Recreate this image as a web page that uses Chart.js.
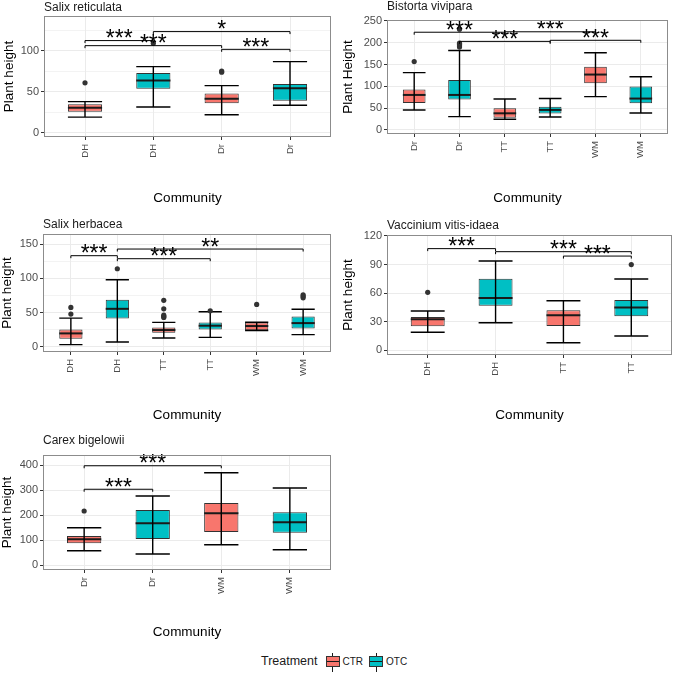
<!DOCTYPE html>
<html lang="en">
  <head>
    <meta charset="UTF-8" />
    <title>Plant height by community and treatment</title>
    <script src="https://cdn.jsdelivr.net/npm/chart.js"></script>
    <style>
      body {
        margin: 0;
        background: #ffffff;
        font-family: "Liberation Sans", Arial, sans-serif;
      }
      #page {
        position: relative;
        width: 675px;
        height: 673px;
        overflow: hidden;
      }
      canvas {
        position: absolute;
      }
      /* Legend */
      #legend {
        position: absolute;
        left: 261px;
        top: 654px;
        display: flex;
        align-items: center;
        font-size: 10px;
        color: #1a1a1a;
      }
      #legend .lab {
        font-size: 12.5px;
        margin-right: 6px;
      }
      #legend .key {
        position: relative;
        width: 12px;
        height: 9px;
        border: 1px solid #333;
        margin: 0 3px 0 2px;
      }
      #legend .key::before {
        content: "";
        position: absolute;
        left: 0;
        right: 0;
        top: 4px;
        height: 1.5px;
        background: #1a1a1a;
      }
      #legend .key::after {
        content: "";
        position: absolute;
        left: 5.5px;
        top: -4px;
        width: 1px;
        height: 19px;
        background: #1a1a1a;
        z-index: -1;
      }
      #legend .txt {
        margin-right: 4px;
      }
    </style>
  </head>
  <body>
    <div id="page">
      <div id="legend">
        <span class="lab">Treatment</span>
        <span class="key" style="background: #f8766d"></span><span class="txt">CTR</span>
        <span class="key" style="background: #00bfc4"></span><span class="txt">OTC</span>
      </div>
    </div>

    <script>
      // ---- data: [lower whisker, Q1, median, Q3, upper whisker] ----
      const reticulataCats = ["DH", "DH", "Dr", "Dr"];
      const reticulataTreat = ["CTR", "OTC", "CTR", "OTC"];
      const reticulataStats = [
        [19, 25.7, 30.6, 34.7, 38],
        [31.4, 53.9, 64, 73, 80.8],
        [22, 36, 41.6, 48, 57.6],
        [33.5, 39, 54.3, 59.6, 87],
      ];
      const reticulataOut = [[61], [109.5], [75.5, 74], []];
      const reticulataSig = [
        [0, 1, 112.7, "***"],
        [0, 2, 106.5, "***"],
        [1, 3, 123.7, "*"],
        [2, 3, 102, "***"],
      ];

      const viviparaCats = ["Dr", "Dr", "TT", "TT", "WM", "WM"];
      const viviparaTreat = ["CTR", "OTC", "CTR", "OTC", "CTR", "OTC"];
      const viviparaStats = [
        [45.9, 62, 80.3, 92.5, 131.5],
        [30.6, 69.6, 80.3, 114.7, 182],
        [24.5, 28, 38.2, 49.7, 71],
        [29.8, 37.5, 46, 53.5, 72],
        [76.5, 107, 127, 145, 177],
        [39, 61, 72, 99.4, 122],
      ];
      const viviparaOut = [[156.7], [190, 193, 196, 199, 231], [], [], [], []];
      const viviparaSig = [
        [0, 2, 224, "***"],
        [1, 3, 203, "***"],
        [2, 4, 225, "***"],
        [3, 5, 205.5, "***"],
      ];

      const herbaceaCats = ["DH", "DH", "TT", "TT", "WM", "WM"];
      const herbaceaTreat = ["CTR", "OTC", "CTR", "OTC", "CTR", "OTC"];
      const herbaceaStats = [
        [3.4, 12, 19.8, 25.6, 42],
        [7.3, 41.6, 55.6, 68.7, 98],
        [13, 20.8, 24.7, 28.5, 35.8],
        [14, 25.6, 31, 35.8, 51.3],
        [24, 24.5, 30.5, 35.5, 36],
        [18, 27, 34.8, 44.5, 55],
      ];
      const herbaceaOut = [[48, 57.6], [114], [43, 44.5, 46.4, 55.6, 68], [52.7], [62], [71.6, 74, 76]];
      const herbaceaSig = [
        [0, 1, 133, "***"],
        [1, 3, 128.6, "***"],
        [1, 5, 142.7, "**"],
      ];

      const vitisCats = ["DH", "DH", "TT", "TT"];
      const vitisTreat = ["CTR", "OTC", "CTR", "OTC"];
      const vitisStats = [
        [18.9, 25.2, 32.5, 35, 41.3],
        [29, 46.9, 54.9, 75.2, 93.8],
        [8, 25.5, 36.7, 42, 52],
        [15, 35.7, 45, 52.8, 74.9],
      ];
      const vitisOut = [[60.9], [], [], [90]];
      const vitisSig = [
        [0, 1, 106.7, "***"],
        [1, 3, 103.5, "***"],
        [2, 3, 98.9, "***"],
      ];

      const carexCats = ["Dr", "Dr", "WM", "WM"];
      const carexTreat = ["CTR", "OTC", "CTR", "OTC"];
      const carexStats = [
        [57, 87, 103, 116, 149],
        [44, 104, 167, 220, 276],
        [81, 132, 207, 248, 369],
        [61, 129, 171, 211, 308],
      ];
      const carexOut = [[216], [], [], []];
      const carexSig = [
        [0, 1, 303, "***"],
        [0, 2, 397, "***"],
      ];

      const COLORS = { CTR: "#F8766D", OTC: "#00BFC4" };
      const FONT = '"Liberation Sans", Arial, sans-serif';

      // ---- layout of the five panels (page coordinates) ----
      const panels = [
        {
          title: "Salix reticulata", yTitle: "Plant height",
          cats: reticulataCats, treat: reticulataTreat, stats: reticulataStats, out: reticulataOut, sig: reticulataSig,
          yMin: -5.3, yMax: 142.8, major: 50,
          left: 0, top: 0, width: 335,
          area: { l: 44, t: 16, r: 331, b: 137 }, titleBase: 10.5, yTitleX: 9, xTitleY: 198,
        },
        {
          title: "Bistorta vivipara", yTitle: "Plant Height",
          cats: viviparaCats, treat: viviparaTreat, stats: viviparaStats, out: viviparaOut, sig: viviparaSig,
          yMin: -9.2, yMax: 252, major: 50,
          left: 335, top: 0, width: 340,
          area: { l: 387, t: 20, r: 668, b: 134 }, titleBase: 10, yTitleX: 13, xTitleY: 198,
        },
        {
          title: "Salix herbacea", yTitle: "Plant height",
          cats: herbaceaCats, treat: herbaceaTreat, stats: herbaceaStats, out: herbaceaOut, sig: herbaceaSig,
          yMin: -7.3, yMax: 164.6, major: 50,
          left: 0, top: 210, width: 335,
          area: { l: 43, t: 234, r: 331, b: 352 }, titleBase: 228, yTitleX: 7, xTitleY: 415,
        },
        {
          title: "Vaccinium vitis-idaea", yTitle: "Plant height",
          cats: vitisCats, treat: vitisTreat, stats: vitisStats, out: vitisOut, sig: vitisSig,
          yMin: -4.9, yMax: 121, major: 30,
          left: 335, top: 210, width: 340,
          area: { l: 387, t: 235, r: 672, b: 355 }, titleBase: 228.5, yTitleX: 13, xTitleY: 415,
        },
        {
          title: "Carex bigelowii", yTitle: "Plant height",
          cats: carexCats, treat: carexTreat, stats: carexStats, out: carexOut, sig: carexSig,
          yMin: -20, yMax: 440, major: 100,
          left: 0, top: 420, width: 335,
          area: { l: 43, t: 455, r: 331, b: 570 }, titleBase: 443.5, yTitleX: 7, xTitleY: 632,
        },
      ];

      // whiskers, medians, outliers, significance brackets, border, panel title
      const boxPlugin = {
        id: "boxExtras",
        afterDatasetsDraw(chart) {
          const p = chart.$panel;
          const { ctx, chartArea } = chart;
          const xs = chart.scales.x;
          const ys = chart.scales.y;
          const meta = chart.getDatasetMeta(0);
          ctx.save();

          p.stats.forEach((s, i) => {
            const bar = meta.data[i];
            const x = bar.x;
            const hw = bar.width / 2;
            // median
            ctx.strokeStyle = "#1a1a1a";
            ctx.lineWidth = 2;
            ctx.beginPath();
            ctx.moveTo(x - hw, ys.getPixelForValue(s[2]));
            ctx.lineTo(x + hw, ys.getPixelForValue(s[2]));
            ctx.stroke();
            // error bar
            const yLo = ys.getPixelForValue(s[0]);
            const yHi = ys.getPixelForValue(s[4]);
            ctx.strokeStyle = "#000";
            ctx.lineWidth = 1.4;
            ctx.beginPath();
            ctx.moveTo(x, yLo);
            ctx.lineTo(x, yHi);
            ctx.moveTo(x - hw, yLo);
            ctx.lineTo(x + hw, yLo);
            ctx.moveTo(x - hw, yHi);
            ctx.lineTo(x + hw, yHi);
            ctx.stroke();
            // outliers
            ctx.fillStyle = "#333";
            p.out[i].forEach((v) => {
              ctx.beginPath();
              ctx.arc(x, ys.getPixelForValue(v), 2.6, 0, Math.PI * 2);
              ctx.fill();
            });
          });

          // significance brackets
          ctx.font = "23px " + FONT;
          ctx.textAlign = "center";
          ctx.textBaseline = "alphabetic";
          p.sig.forEach(([a, b, v, lab]) => {
            const x1 = xs.getPixelForValue(a);
            const x2 = xs.getPixelForValue(b);
            const y = ys.getPixelForValue(v);
            ctx.strokeStyle = "#000";
            ctx.lineWidth = 1;
            ctx.beginPath();
            ctx.moveTo(x1, y + 2.5);
            ctx.lineTo(x1, y);
            ctx.lineTo(x2, y);
            ctx.lineTo(x2, y + 2.5);
            ctx.stroke();
            const m = ctx.measureText(lab);
            ctx.fillStyle = "#000";
            ctx.fillText(lab, (x1 + x2) / 2, y - 2.5 - m.actualBoundingBoxDescent);
          });

          // panel border
          ctx.strokeStyle = "#8c8c8c";
          ctx.lineWidth = 1;
          ctx.strokeRect(
            Math.round(chartArea.left) + 0.5,
            Math.round(chartArea.top) + 0.5,
            Math.round(chartArea.right - chartArea.left) - 1,
            Math.round(chartArea.bottom - chartArea.top) - 1
          );

          // panel title
          ctx.font = "12px " + FONT;
          ctx.textAlign = "left";
          ctx.fillStyle = "#1a1a1a";
          ctx.fillText(p.title, chartArea.left, p.titleBase - p.top);
          ctx.restore();
        },
      };

      function makePanel(p) {
        const W = p.width;
        const H = p.xTitleY - p.top + 12;
        const canvas = document.createElement("canvas");
        canvas.width = W;
        canvas.height = H;
        canvas.style.left = p.left + "px";
        canvas.style.top = p.top + "px";
        canvas.style.width = W + "px";
        canvas.style.height = H + "px";
        document.getElementById("page").appendChild(canvas);

        const n = p.cats.length;
        const a = {
          l: p.area.l - p.left,
          t: p.area.t - p.top,
          r: p.area.r - p.left,
          b: p.area.b - p.top,
        };
        const isMajor = (v) => Math.abs(v / p.major - Math.round(v / p.major)) < 1e-6;

        const chart = new Chart(canvas, {
          type: "bar",
          data: {
            datasets: [
              {
                data: p.stats.map((s, i) => ({ x: i, y: [s[1], s[3]] })),
                backgroundColor: p.treat.map((t) => COLORS[t]),
                borderColor: "#333333",
                borderWidth: 1,
                borderSkipped: false,
                barPercentage: 0.5,
                categoryPercentage: 1,
              },
            ],
          },
          options: {
            responsive: false,
            animation: false,
            events: [],
            layout: { padding: { left: 0, top: a.t, right: W - a.r, bottom: 0 } },
            plugins: { legend: { display: false }, tooltip: { enabled: false } },
            scales: {
              x: {
                type: "linear",
                min: -0.6,
                max: n - 0.4,
                offset: false,
                afterBuildTicks: (s) => {
                  s.ticks = p.cats.map((c, i) => ({ value: i }));
                },
                afterFit: (s) => {
                  s.height = H - a.b;
                },
                border: { display: false },
                grid: { offset: false, color: "#ebebeb", lineWidth: 1, tickColor: "#333", tickLength: 3 },
                ticks: {
                  autoSkip: false,
                  minRotation: 90,
                  maxRotation: 90,
                  padding: 4,
                  color: "#4d4d4d",
                  font: { family: FONT, size: 9.5 },
                  callback: (v) => p.cats[v],
                },
                title: {
                  display: true,
                  text: "Community",
                  color: "#000",
                  font: { family: FONT, size: 13.5, lineHeight: 1 },
                  padding: { top: 0, bottom: H - (p.xTitleY - p.top) - 6.75 },
                },
              },
              y: {
                min: p.yMin,
                max: p.yMax,
                afterBuildTicks: (s) => {
                  const t = [];
                  for (let v = 0; v <= p.yMax; v += p.major / 2) t.push({ value: v });
                  s.ticks = t;
                },
                afterFit: (s) => {
                  s.width = a.l;
                },
                border: { display: false },
                grid: {
                  color: "#ebebeb",
                  lineWidth: (c) => (c.tick && isMajor(c.tick.value) ? 1 : 0.6),
                  tickColor: (c) => (c.tick && isMajor(c.tick.value) ? "#333" : "rgba(0,0,0,0)"),
                  tickLength: 3,
                },
                ticks: {
                  padding: 2,
                  color: "#4d4d4d",
                  font: { family: FONT, size: 11 },
                  callback: (v) => (isMajor(v) ? String(v) : ""),
                },
                title: {
                  display: true,
                  text: p.yTitle,
                  color: "#000",
                  font: { family: FONT, size: 13.5, lineHeight: 1 },
                  padding: { top: p.yTitleX - 6.75, bottom: 0 },
                },
              },
            },
          },
          plugins: [
            {
              id: "panelRef",
              beforeInit(c) {
                c.$panel = p;
              },
            },
            boxPlugin,
          ],
        });
        return chart;
      }

      panels.forEach(makePanel);
    </script>
  </body>
</html>
